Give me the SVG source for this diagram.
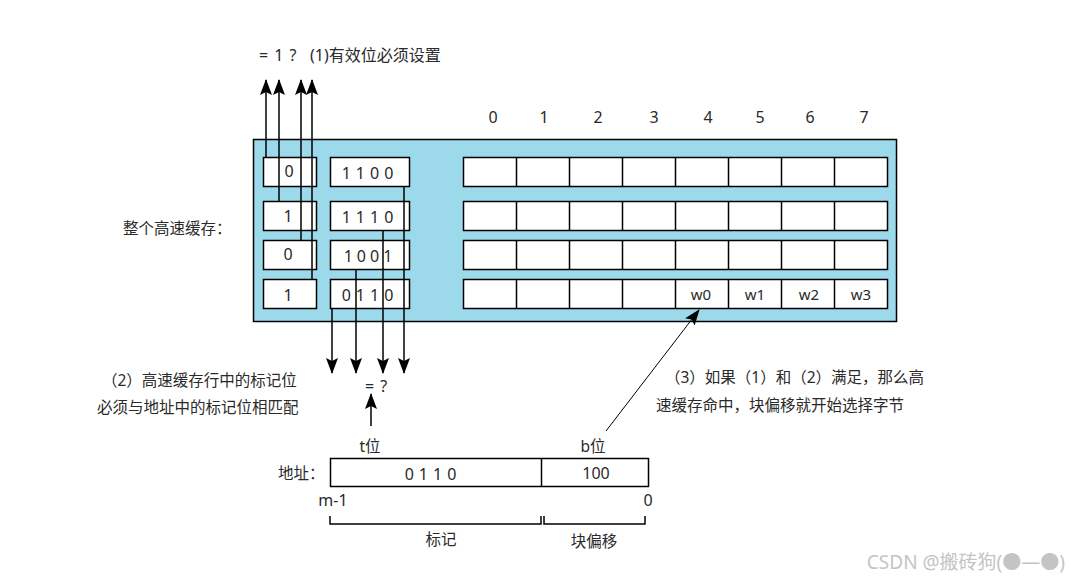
<svg xmlns="http://www.w3.org/2000/svg" width="1071" height="581" viewBox="0 0 1071 581">
<defs>
<style>
text{font-family:"Noto Sans","Noto Sans CJK SC",sans-serif;fill:#2a2a2a;font-size:16px;dominant-baseline:central}
.cj{font-size:15.5px}
.box{fill:#fff;stroke:#000;stroke-width:1.5}
.ln{stroke:#000;stroke-width:1.5;fill:none}
.mid{text-anchor:middle}
</style>
<marker id="ah" markerUnits="userSpaceOnUse" markerWidth="16" markerHeight="12" refX="15" refY="6" orient="auto">
<path d="M0,0 L16,6 L0,12 L3,6 Z" fill="#000"/>
</marker>
</defs>
<rect width="1071" height="581" fill="#fff"/>

<g id="cache">
<rect x="253.5" y="139.5" width="643" height="182" fill="#9cd9ea" stroke="#000" stroke-width="1.5"/>
</g>

<g id="valid-bits">
<rect class="box" x="263.5" y="157.5" width="53" height="29"/>
<rect class="box" x="263.5" y="201.5" width="53" height="29"/>
<rect class="box" x="263.5" y="240.5" width="53" height="29"/>
<rect class="box" x="263.5" y="279.5" width="53" height="29"/>
<text class="mid" x="289" y="171">0</text>
<text class="mid" x="288" y="216">1</text>
<text class="mid" x="288" y="254">0</text>
<text class="mid" x="288" y="295">1</text>
</g>

<g id="tags">
<rect class="box" x="330.5" y="157.5" width="79" height="29"/>
<rect class="box" x="330.5" y="201.5" width="79" height="29"/>
<rect class="box" x="330.5" y="240.5" width="79" height="29"/>
<rect class="box" x="330.5" y="279.5" width="79" height="29"/>
<text class="mid" x="370" y="173" letter-spacing="5">1100</text>
<text class="mid" x="370" y="217" letter-spacing="5">1110</text>
<text class="mid" x="370" y="256" letter-spacing="4">1001</text>
<text class="mid" x="370" y="295" letter-spacing="5">0110</text>
</g>

<g id="data-blocks" stroke="#000" stroke-width="1.5" fill="#fff">
<rect x="463.5" y="157.5" width="424" height="29"/>
<rect x="463.5" y="201.5" width="424" height="29"/>
<rect x="463.5" y="240.5" width="424" height="29"/>
<rect x="463.5" y="279.5" width="424" height="29"/>
<path d="M516.5,157v30M569.5,157v30M622.5,157v30M675.5,157v30M728.5,157v30M781.5,157v30M834.5,157v30
M516.5,201v30M569.5,201v30M622.5,201v30M675.5,201v30M728.5,201v30M781.5,201v30M834.5,201v30
M516.5,240v30M569.5,240v30M622.5,240v30M675.5,240v30M728.5,240v30M781.5,240v30M834.5,240v30
M516.5,279v30M569.5,279v30M622.5,279v30M675.5,279v30M728.5,279v30M781.5,279v30M834.5,279v30" fill="none"/>
</g>
<g id="words">
<text class="mid" x="701" y="294" style="font-size:15px">w0</text>
<text class="mid" x="755" y="294" style="font-size:15px">w1</text>
<text class="mid" x="809" y="294" style="font-size:15px">w2</text>
<text class="mid" x="861" y="294" style="font-size:15px">w3</text>
</g>

<g id="column-labels">
<text class="mid" x="493" y="117">0</text>
<text class="mid" x="544" y="117">1</text>
<text class="mid" x="598" y="117">2</text>
<text class="mid" x="654" y="117">3</text>
<text class="mid" x="708" y="117">4</text>
<text class="mid" x="760" y="117">5</text>
<text class="mid" x="810" y="117">6</text>
<text class="mid" x="864" y="117">7</text>
</g>

<g id="connectors">
<line class="ln" x1="266" y1="157" x2="266" y2="80" marker-end="url(#ah)"/>
<line class="ln" x1="279" y1="201" x2="279" y2="80" marker-end="url(#ah)"/>
<line class="ln" x1="301" y1="240" x2="301" y2="80" marker-end="url(#ah)"/>
<line class="ln" x1="312" y1="279" x2="312" y2="80" marker-end="url(#ah)"/>
<line class="ln" x1="404" y1="186" x2="404" y2="373" marker-end="url(#ah)"/>
<line class="ln" x1="383" y1="230" x2="383" y2="373" marker-end="url(#ah)"/>
<line class="ln" x1="356" y1="269" x2="356" y2="373" marker-end="url(#ah)"/>
<line class="ln" x1="332" y1="308" x2="332" y2="373" marker-end="url(#ah)"/>
<line class="ln" x1="371" y1="426" x2="371" y2="394" marker-end="url(#ah)"/>
<line x1="606" y1="431" x2="699" y2="310" stroke="#000" stroke-width="1" marker-end="url(#ah)"/>
</g>

<g id="labels">
<text x="259" y="55" letter-spacing="1">= 1 ?</text>
<text x="310" y="55" style="font-size:16px">(1)有效位必须设置</text>
<text x="123" y="228" class="cj">整个高速缓存：</text>
<text x="102" y="380" class="cj">（2）高速缓存行中的标记位</text>
<text x="97" y="407" class="cj">必须与地址中的标记位相匹配</text>
<text x="365" y="386" style="font-size:16px" letter-spacing="1">= ?</text>
<text x="665" y="377" class="cj">（3）如果（1）和（2）满足，那么高</text>
<text x="656" y="405" class="cj">速缓存命中，块偏移就开始选择字节</text>
</g>

<g id="address">
<text class="mid cj" x="370" y="446">t位</text>
<text class="mid cj" x="593" y="446">b位</text>
<text x="278" y="473" class="cj">地址：</text>
<rect class="box" x="330.5" y="458.5" width="318" height="28"/>
<line class="ln" x1="541.5" y1="458" x2="541.5" y2="487"/>
<text class="mid" x="433" y="474" letter-spacing="5">0110</text>
<text class="mid" x="596" y="473">100</text>
<text class="mid" x="333" y="500">m-1</text>
<text class="mid" x="648" y="500">0</text>
<path class="ln" d="M330,516v8h211v-8M544,516v8h101v-8" stroke-width="1.2"/>
<text class="mid cj" x="441" y="539">标记</text>
<text class="mid cj" x="594" y="541">块偏移</text>
</g>

<text x="1065" y="562" style="text-anchor:end;fill:#c4c4c4;font-size:19px">CSDN @搬砖狗(●—●)</text>
</svg>
